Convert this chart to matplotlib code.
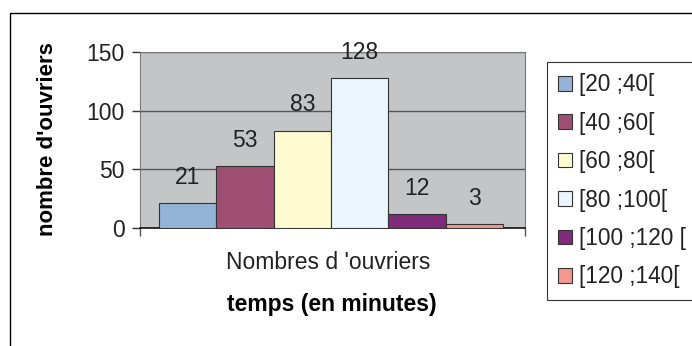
import matplotlib.pyplot as plt
import matplotlib.patches as mpatches
import numpy as np

plt.rcParams['font.family'] = ['Liberation Sans', 'DejaVu Sans']

classes = ["[20 ;40[", "[40 ;60[", "[60 ;80[", "[80 ;100[", "[100 ;120 [", "[120 ;140["]
effectifs = [21, 53, 83, 128, 12, 3]
couleurs = ["#95B3D7", "#9E4F72", "#FFFBD0", "#EAF5FC", "#7F2A7A", "#F4978E"]
yticks = [0, 50, 100, 150]

fig = plt.figure(figsize=(6.92, 3.46), dpi=100)

# cadre exterieur du graphique
cadre = mpatches.Rectangle((10 / 692, -0.1), 1.1, 1 - 13 / 346 + 0.1,
                           transform=fig.transFigure, fill=False,
                           edgecolor="black", linewidth=1.0, clip_on=False)
fig.patches.append(cadre)

ax = fig.add_axes([140 / 692, 1 - 228 / 346, 385 / 692, 176 / 346])
ax.set_facecolor("#C4C5C7")

x = np.arange(len(effectifs))
bars = ax.bar(x, effectifs, width=1.0, color=couleurs, edgecolor="#333333",
              linewidth=0.8, zorder=3, label=classes)
for xi, v in zip(x, effectifs):
    ax.annotate(str(v), (xi, v), xytext=(0, 18.5), textcoords="offset points",
                ha="center", va="center", fontsize=16.5, color="#222222", zorder=4)

ax.set_xlim(-0.83, 5.88)
ax.set_ylim(0, 150)
ax.set_yticks(yticks)
ax.tick_params(axis="y", labelsize=16.5, length=6, width=1, color="#333333", pad=5,
               labelcolor="#222222")
ax.grid(axis="y", color="#555555", linewidth=1, zorder=1)
ax.set_axisbelow(True)

ax.set_xticks(ax.get_xlim())
ax.set_xticklabels(["", ""])
ax.tick_params(axis="x", length=6, width=1, color="#555555")
ax.text(0.49, -0.195, "Nombres d 'ouvriers", transform=ax.transAxes,
        ha="center", va="center", fontsize=16.5, color="#222222")

for s in ["left", "right", "top"]:
    ax.spines[s].set_color("#777777")
ax.spines["bottom"].set_color("#111111")
ax.spines["bottom"].set_linewidth(1.2)

fig.text(48 / 692, 1 - 139 / 346, "nombre d'ouvriers", rotation=90,
         ha="center", va="center", fontsize=16, fontweight="bold")
fig.text(332 / 692, 1 - 305 / 346, "temps (en minutes)", ha="center", va="center",
         fontsize=16.5, fontweight="bold")

handles = [mpatches.Patch(facecolor=c, edgecolor="#333333", linewidth=0.8) for c in couleurs]
leg = fig.legend(handles, classes, loc="upper left",
                 bbox_to_anchor=(547 / 692, 1 - 62 / 346), bbox_transform=fig.transFigure,
                 fontsize=16.3, frameon=True, fancybox=False, edgecolor="black",
                 handlelength=0.62, handleheight=0.62, handletextpad=0.3,
                 labelspacing=0.68, borderpad=0.5, borderaxespad=0)
leg.get_frame().set_linewidth(0.8)
for t in leg.get_texts():
    t.set_color("#222222")

fig.savefig("out.png", dpi=100)
